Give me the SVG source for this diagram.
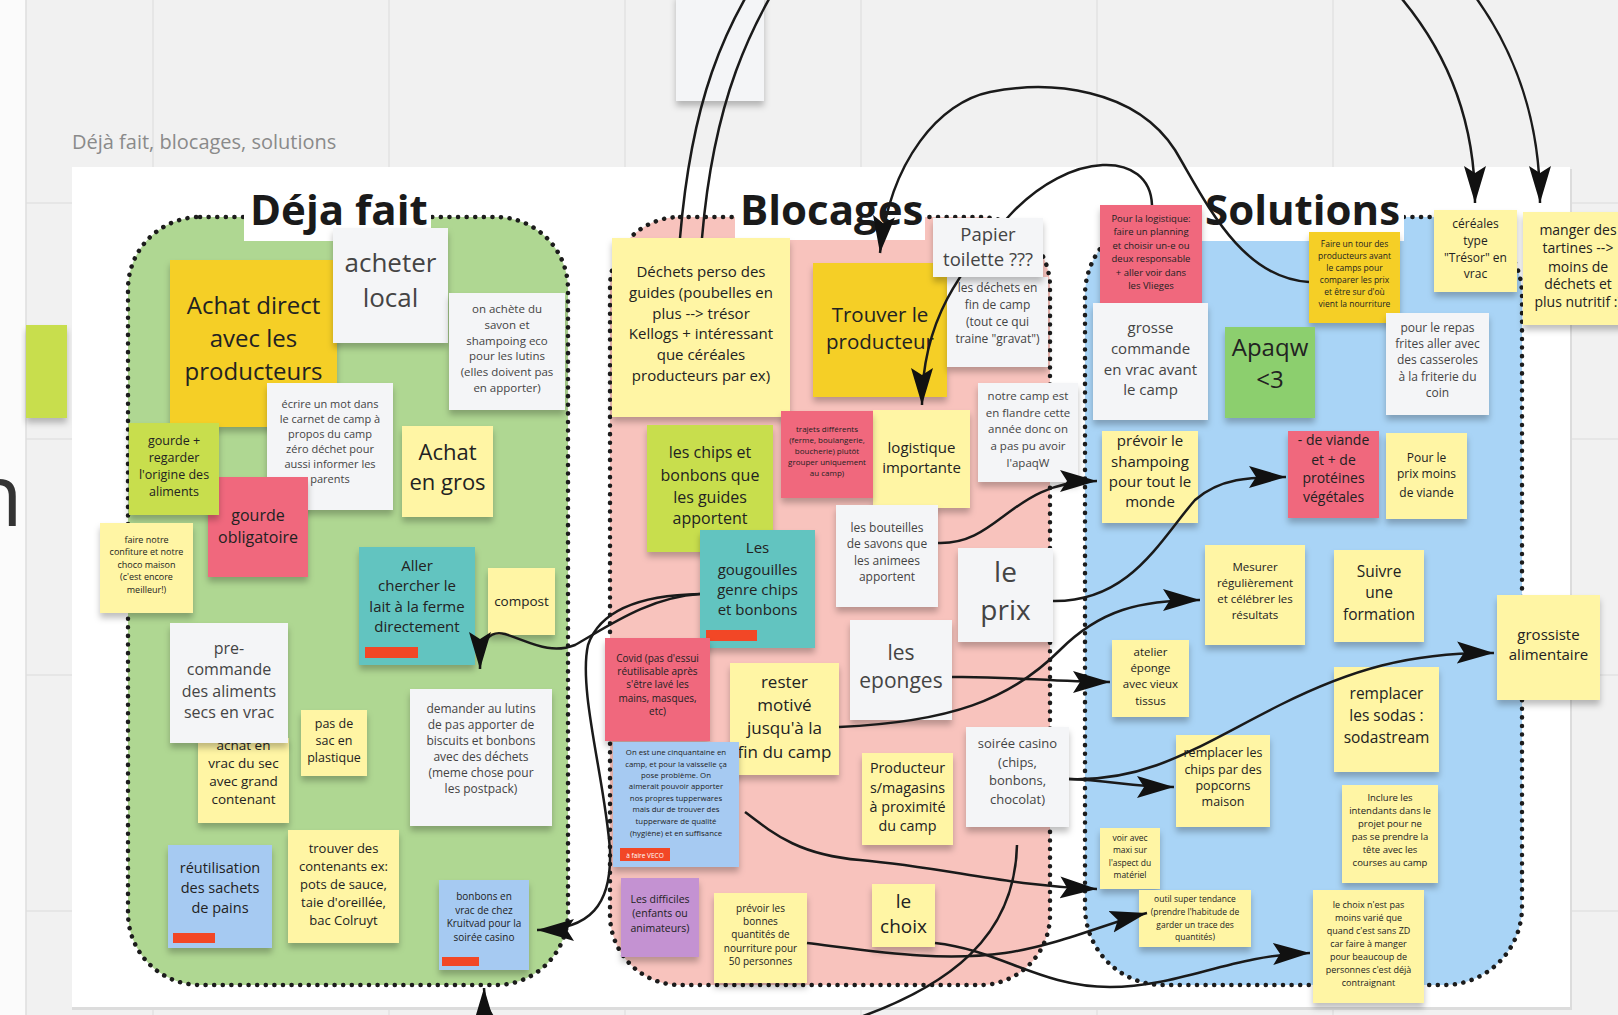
<svg xmlns="http://www.w3.org/2000/svg" width="1618" height="1015" viewBox="0 0 1618 1015">
<defs>
<style>
.t{font-family:"Open Sans","Liberation Sans",sans-serif;text-anchor:middle;fill:#222}
.g{fill:#444}
.h{font-family:"Open Sans","Liberation Sans",sans-serif;font-weight:700;font-size:42px;fill:#1a1a1a}
.s{filter:url(#sh)}
.ly{fill:#fff5a4}.or{fill:#f5cf28}.wh{fill:#f4f5f7}.li{fill:#c8de4e}.gr{fill:#8ccf6e}.te{fill:#62c4c0}.pk{fill:#f0687d}.bl{fill:#a6caf2}.pu{fill:#c492d2}.rb{fill:#f24726}
.reg{stroke:#1c1c1c;stroke-width:4.5;stroke-dasharray:0.1 8.5;stroke-linecap:round}
.c{fill:none;stroke:#1a1a1a;stroke-width:2.5;marker-end:url(#ah)}
.grid{stroke:#e2e2e2;stroke-width:1.5}
</style>
<filter id="sh" x="-10%" y="-10%" width="120%" height="135%"><feDropShadow dx="0" dy="5" stdDeviation="3" flood-color="#000" flood-opacity="0.25"/></filter>
<marker id="ah" markerUnits="userSpaceOnUse" markerWidth="38" markerHeight="24" viewBox="0 0 38 24" refX="37" refY="12" orient="auto"><path d="M0,1 L37,12 L0,23 L7,12 Z" fill="#111"/></marker>
</defs>

<g id="background">
<rect x="0" y="0" width="1618" height="1015" fill="#f1f1f1"/>
<g class="grid">
<line x1="153" y1="0" x2="153" y2="1015"/><line x1="389" y1="0" x2="389" y2="1015"/><line x1="625" y1="0" x2="625" y2="1015"/><line x1="861" y1="0" x2="861" y2="1015"/><line x1="1097" y1="0" x2="1097" y2="1015"/><line x1="1333" y1="0" x2="1333" y2="1015"/>
<line x1="0" y1="203" x2="1618" y2="203"/><line x1="0" y1="439" x2="1618" y2="439"/><line x1="0" y1="675" x2="1618" y2="675"/><line x1="0" y1="911" x2="1618" y2="911"/>
</g>
<rect x="0" y="0" width="26" height="1015" fill="#fbfbfb"/>
<line x1="26" y1="0" x2="26" y2="1015" stroke="#dedede" stroke-width="1.5"/>
<text x="-30" y="526" font-family="Open Sans, Liberation Sans, sans-serif" font-size="86" fill="#333">n</text>
<text x="72" y="149" font-family="Open Sans, Liberation Sans, sans-serif" font-size="20" fill="#8a8a8a">Déjà fait, blocages, solutions</text>
<rect x="72" y="169" width="1500" height="841" fill="#dcdcdc"/>
<rect x="72" y="167" width="1498" height="840" fill="#ffffff"/>
</g>

<g id="outside-notes">
<rect class="s wh" x="676" y="-6" width="88" height="107"/>
<rect class="s li" x="26" y="325" width="41" height="93"/>
</g>

<g id="regions">
<rect class="reg" x="128" y="217" width="440" height="768" rx="72" fill="#afd792"/>
<rect class="reg" x="610" y="217" width="440" height="768" rx="70" fill="#f8c3bd"/>
<rect class="reg" x="1085" y="217" width="437" height="768" rx="78" fill="#a9d4f6"/>
</g>

<g id="titles">
<rect x="244" y="188" width="187" height="53" fill="#fff"/><text class="h" x="250" y="225">Déja fait</text>
<rect x="735" y="188" width="190" height="52" fill="#fff"/><text class="h" x="740" y="225">Blocages</text>
<rect x="1201" y="188" width="203" height="53" fill="#fff"/><text class="h" x="1205" y="225">Solutions</text>
</g>

<g id="deja-fait">
<g id="achat-direct"><rect class="s or" x="170" y="260" width="167" height="167"/><text class="t" font-size="24"><tspan x="253.5" y="314">Achat direct</tspan><tspan x="253.5" y="347">avec les</tspan><tspan x="253.5" y="380">producteurs</tspan></text></g>
<g id="acheter-local"><rect class="s wh" x="333" y="228" width="115" height="115"/><text class="t g" font-size="26"><tspan x="390.5" y="272">acheter</tspan><tspan x="390.5" y="307">local</tspan></text></g>
<g id="savon"><rect class="s wh" x="449" y="293" width="116" height="117"/><text class="t g" font-size="11.5"><tspan x="507" y="313">on achète du</tspan><tspan x="507" y="329">savon et</tspan><tspan x="507" y="345">shampoing eco</tspan><tspan x="507" y="360">pour les lutins</tspan><tspan x="507" y="376">(elles doivent pas</tspan><tspan x="507" y="392">en apporter)</tspan></text></g>
<g id="ecrire"><rect class="s wh" x="267" y="383" width="126" height="127"/><text class="t g" font-size="11"><tspan x="330" y="408">écrire un mot dans</tspan><tspan x="330" y="423">le carnet de camp à</tspan><tspan x="330" y="438">propos du camp</tspan><tspan x="330" y="453">zéro déchet pour</tspan><tspan x="330" y="468">aussi informer les</tspan><tspan x="330" y="483">parents</tspan></text></g>
<g id="achat-gros"><rect class="s ly" x="402" y="426" width="91" height="91"/><text class="t" font-size="22"><tspan x="447.5" y="460">Achat</tspan><tspan x="447.5" y="490">en gros</tspan></text></g>
<g id="gourde-obligatoire"><rect class="s pk" x="208" y="477" width="100" height="100"/><text class="t" font-size="16"><tspan x="258" y="521">gourde</tspan><tspan x="258" y="543">obligatoire</tspan></text></g>
<g id="gourde-regarder"><rect class="s li" x="129" y="423" width="90" height="92"/><text class="t" font-size="12.5"><tspan x="174" y="445">gourde +</tspan><tspan x="174" y="462">regarder</tspan><tspan x="174" y="479">l'origine des</tspan><tspan x="174" y="496">aliments</tspan></text></g>
<g id="confiture"><rect class="s ly" x="100" y="523" width="93" height="90"/><text class="t" font-size="9"><tspan x="146.5" y="543">faire notre</tspan><tspan x="146.5" y="555">confiture et notre</tspan><tspan x="146.5" y="568">choco maison</tspan><tspan x="146.5" y="580">(c'est encore</tspan><tspan x="146.5" y="593">meilleur!)</tspan></text></g>
<g id="aller-lait"><rect class="s te" x="359" y="547" width="116" height="118"/><rect class="rb" x="365" y="647" width="53" height="11"/><text class="t" font-size="15"><tspan x="417" y="571">Aller</tspan><tspan x="417" y="591">chercher le</tspan><tspan x="417" y="612">lait à la ferme</tspan><tspan x="417" y="632">directement</tspan></text></g>
<g id="compost"><rect class="s ly" x="488" y="568" width="67" height="67"/><text class="t" font-size="13.5"><tspan x="521.5" y="606">compost</tspan></text></g>
<g id="achat-vrac"><rect class="s ly" x="198" y="738" width="91" height="85"/><text class="t" font-size="13.5"><tspan x="243.5" y="750">achat en</tspan><tspan x="243.5" y="768">vrac du sec</tspan><tspan x="243.5" y="786">avec grand</tspan><tspan x="243.5" y="804">contenant</tspan></text></g>
<g id="precommande"><rect class="s wh" x="170" y="623" width="118" height="120"/><text class="t g" font-size="16"><tspan x="229" y="654">pre-</tspan><tspan x="229" y="675">commande</tspan><tspan x="229" y="697">des aliments</tspan><tspan x="229" y="718">secs en vrac</tspan></text></g>
<g id="pas-de-sac"><rect class="s ly" x="301" y="710" width="66" height="66"/><text class="t" font-size="12.5"><tspan x="334" y="728">pas de</tspan><tspan x="334" y="745">sac en</tspan><tspan x="334" y="762">plastique</tspan></text></g>
<g id="demander"><rect class="s wh" x="410" y="689" width="142" height="137"/><text class="t g" font-size="12"><tspan x="481" y="713">demander au lutins</tspan><tspan x="481" y="729">de pas apporter de</tspan><tspan x="481" y="745">biscuits et bonbons</tspan><tspan x="481" y="761">avec des déchets</tspan><tspan x="481" y="777">(meme chose pour</tspan><tspan x="481" y="793">les postpack)</tspan></text></g>
<g id="reutilisation"><rect class="s bl" x="168" y="845" width="104" height="103"/><rect class="rb" x="173" y="933" width="42" height="10"/><text class="t" font-size="14.5"><tspan x="220" y="873">réutilisation</tspan><tspan x="220" y="893">des sachets</tspan><tspan x="220" y="913">de pains</tspan></text></g>
<g id="trouver-contenants"><rect class="s ly" x="288" y="830" width="111" height="113"/><text class="t" font-size="13"><tspan x="343.5" y="853">trouver des</tspan><tspan x="343.5" y="871">contenants ex:</tspan><tspan x="343.5" y="889">pots de sauce,</tspan><tspan x="343.5" y="907">taie d'oreillée,</tspan><tspan x="343.5" y="925">bac Colruyt</tspan></text></g>
<g id="bonbons-vrac"><rect class="s bl" x="439" y="880" width="90" height="90"/><rect class="rb" x="442" y="957" width="37" height="9"/><text class="t" font-size="10"><tspan x="484" y="900">bonbons en</tspan><tspan x="484" y="914">vrac de chez</tspan><tspan x="484" y="927">Kruitvad pour la</tspan><tspan x="484" y="941">soirée casino</tspan></text></g>
</g>

<g id="blocages">
<g id="dechets-perso"><rect class="s ly" x="612" y="238" width="178" height="179"/><text class="t" font-size="15"><tspan x="701" y="277">Déchets perso des</tspan><tspan x="701" y="298">guides (poubelles en</tspan><tspan x="701" y="319">plus --&gt; trésor</tspan><tspan x="701" y="339">Kellogs + intéressant</tspan><tspan x="701" y="360">que céréales</tspan><tspan x="701" y="381">producteurs par ex)</tspan></text></g>
<g id="trouver-producteur"><rect class="s or" x="813" y="263" width="134" height="134"/><text class="t" font-size="20.5"><tspan x="880" y="322">Trouver le</tspan><tspan x="880" y="349">producteur</tspan></text></g>
<g id="dechets-fin"><rect class="s wh" x="947" y="277" width="101" height="90"/><text class="t g" font-size="12"><tspan x="997.5" y="292">les déchets en</tspan><tspan x="997.5" y="309">fin de camp</tspan><tspan x="997.5" y="326">(tout ce qui</tspan><tspan x="997.5" y="343">traine "gravat")</tspan></text></g>
<g id="logistique"><rect class="s ly" x="873" y="410" width="97" height="98"/><text class="t" font-size="15"><tspan x="921.5" y="453">logistique</tspan><tspan x="921.5" y="473">importante</tspan></text></g>
<g id="trajets"><rect class="s pk" x="781" y="411" width="92" height="87"/><text class="t" font-size="8"><tspan x="827" y="432">trajets différents</tspan><tspan x="827" y="443">(ferme, boulangerie,</tspan><tspan x="827" y="454">boucherie) plutôt</tspan><tspan x="827" y="465">grouper uniquement</tspan><tspan x="827" y="476">au camp)</tspan></text></g>
<g id="chips-bonbons"><rect class="s li" x="647" y="425" width="126" height="127"/><text class="t" font-size="16"><tspan x="710" y="458">les chips et</tspan><tspan x="710" y="481">bonbons que</tspan><tspan x="710" y="503">les guides</tspan><tspan x="710" y="524">apportent</tspan></text></g>
<g id="gougouilles"><rect class="s te" x="700" y="530" width="115" height="118"/><rect class="rb" x="706" y="630" width="51" height="11"/><text class="t" font-size="15"><tspan x="757.5" y="553">Les</tspan><tspan x="757.5" y="575">gougouilles</tspan><tspan x="757.5" y="595">genre chips</tspan><tspan x="757.5" y="615">et bonbons</tspan></text></g>
<g id="bouteilles"><rect class="s wh" x="836" y="505" width="102" height="102"/><text class="t g" font-size="12"><tspan x="887" y="532">les bouteilles</tspan><tspan x="887" y="548">de savons que</tspan><tspan x="887" y="565">les animees</tspan><tspan x="887" y="581">apportent</tspan></text></g>
<g id="notre-camp"><rect class="s wh" x="978" y="383" width="100" height="99"/><text class="t g" font-size="11.5"><tspan x="1028" y="400">notre camp est</tspan><tspan x="1028" y="417">en flandre cette</tspan><tspan x="1028" y="433">année donc on</tspan><tspan x="1028" y="450">a pas pu avoir</tspan><tspan x="1028" y="467">l'apaqW</tspan></text></g>
<g id="le-prix"><rect class="s wh" x="958" y="548" width="95" height="94"/><text class="t g" font-size="28"><tspan x="1005.5" y="582">le</tspan><tspan x="1005.5" y="620">prix</tspan></text></g>
<g id="eponges"><rect class="s wh" x="850" y="620" width="102" height="100"/><text class="t g" font-size="21"><tspan x="901" y="660">les</tspan><tspan x="901" y="688">eponges</tspan></text></g>
<g id="covid"><rect class="s pk" x="605" y="638" width="105" height="103"/><text class="t" font-size="10"><tspan x="657.5" y="662">Covid (pas d'essui</tspan><tspan x="657.5" y="675">réutilisable après</tspan><tspan x="657.5" y="688">s'être lavé les</tspan><tspan x="657.5" y="702">mains, masques,</tspan><tspan x="657.5" y="715">etc)</tspan></text></g>
<g id="rester-motive"><rect class="s ly" x="730" y="663" width="109" height="112"/><text class="t" font-size="17"><tspan x="784.5" y="688">rester</tspan><tspan x="784.5" y="711">motivé</tspan><tspan x="784.5" y="734">jusqu'à la</tspan><tspan x="784.5" y="758">fin du camp</tspan></text></g>
<g id="on-est"><rect class="s bl" x="613" y="742" width="126" height="125"/><rect class="rb" x="620" y="848" width="50" height="13"/><text class="t" font-size="7.8"><tspan x="676" y="755">On est une cinquantaine en</tspan><tspan x="676" y="767">camp, et pour la vaisselle ça</tspan><tspan x="676" y="778">pose problème. On</tspan><tspan x="676" y="789">aimerait pouvoir apporter</tspan><tspan x="676" y="801">nos propres tupperwares</tspan><tspan x="676" y="812">mais dur de trouver des</tspan><tspan x="676" y="824">tupperware de qualité</tspan><tspan x="676" y="836">(hygiène) et en suffisance</tspan></text><text class="t" font-size="6.5" x="645" y="857.5" style="fill:#fff">à faire VECO</text></g>
<g id="difficiles"><rect class="s pu" x="621" y="878" width="78" height="79"/><text class="t" font-size="10.5"><tspan x="660" y="903">Les difficiles</tspan><tspan x="660" y="917">(enfants ou</tspan><tspan x="660" y="932">animateurs)</tspan></text></g>
<g id="prevoir-quantites"><rect class="s ly" x="714" y="893" width="93" height="90"/><text class="t" font-size="10"><tspan x="760.5" y="912">prévoir les</tspan><tspan x="760.5" y="925">bonnes</tspan><tspan x="760.5" y="938">quantités de</tspan><tspan x="760.5" y="952">nourriture pour</tspan><tspan x="760.5" y="965">50 personnes</tspan></text></g>
<g id="producteurs-magasins"><rect class="s ly" x="862" y="753" width="91" height="92"/><text class="t" font-size="14.3"><tspan x="907.5" y="773">Producteur</tspan><tspan x="907.5" y="793">s/magasins</tspan><tspan x="907.5" y="812">à proximité</tspan><tspan x="907.5" y="831">du camp</tspan></text></g>
<g id="soiree-casino"><rect class="s wh" x="966" y="727" width="103" height="100"/><text class="t g" font-size="13"><tspan x="1017.5" y="748">soirée casino</tspan><tspan x="1017.5" y="767">(chips,</tspan><tspan x="1017.5" y="785">bonbons,</tspan><tspan x="1017.5" y="804">chocolat)</tspan></text></g>
<g id="le-choix"><rect class="s ly" x="872" y="884" width="63" height="63"/><text class="t" font-size="19"><tspan x="903.5" y="908">le</tspan><tspan x="903.5" y="933">choix</tspan></text></g>
</g>

<g id="solutions">
<g id="pour-logistique"><rect class="s pk" x="1100" y="205" width="102" height="102"/><text class="t" font-size="9.5"><tspan x="1151" y="222">Pour la logistique:</tspan><tspan x="1151" y="235">faire un planning</tspan><tspan x="1151" y="249">et choisir un-e ou</tspan><tspan x="1151" y="262">deux responsable</tspan><tspan x="1151" y="276">+ aller voir dans</tspan><tspan x="1151" y="289">les Vlieges</tspan></text></g>
<g id="grosse-commande"><rect class="s wh" x="1093" y="303" width="115" height="117"/><text class="t g" font-size="15"><tspan x="1150.5" y="333">grosse</tspan><tspan x="1150.5" y="354">commande</tspan><tspan x="1150.5" y="375">en vrac avant</tspan><tspan x="1150.5" y="395">le camp</tspan></text></g>
<g id="faire-tour"><rect class="s or" x="1309" y="232" width="91" height="91"/><text class="t" font-size="8.5"><tspan x="1354.5" y="247">Faire un tour des</tspan><tspan x="1354.5" y="259">producteurs avant</tspan><tspan x="1354.5" y="271">le camps pour</tspan><tspan x="1354.5" y="283">comparer les prix</tspan><tspan x="1354.5" y="295">et être sur d'où</tspan><tspan x="1354.5" y="307">vient la nourriture</tspan></text></g>
<g id="apaqw"><rect class="s gr" x="1225" y="327" width="90" height="91"/><text class="t" font-size="24"><tspan x="1270" y="356">Apaqw</tspan><tspan x="1270" y="388">&lt;3</tspan></text></g>
<g id="cereales"><rect class="s ly" x="1434" y="210" width="83" height="82"/><text class="t" font-size="12"><tspan x="1475.5" y="228">céréales</tspan><tspan x="1475.5" y="245">type</tspan><tspan x="1475.5" y="262">"Trésor" en</tspan><tspan x="1475.5" y="278">vrac</tspan></text></g>
<g id="tartines"><rect class="s ly" x="1523" y="212" width="110" height="113"/><text class="t" font-size="14"><tspan x="1578" y="235">manger des</tspan><tspan x="1578" y="253">tartines --&gt;</tspan><tspan x="1578" y="272">moins de</tspan><tspan x="1578" y="289">déchets et</tspan><tspan x="1578" y="307">plus nutritif :)</tspan></text></g>
<g id="repas-frites"><rect class="s wh" x="1386" y="313" width="103" height="102"/><text class="t g" font-size="12"><tspan x="1437.5" y="332">pour le repas</tspan><tspan x="1437.5" y="348">frites aller avec</tspan><tspan x="1437.5" y="364">des casseroles</tspan><tspan x="1437.5" y="381">à la friterie du</tspan><tspan x="1437.5" y="397">coin</tspan></text></g>
<g id="shampoing"><rect class="s ly" x="1102" y="431" width="96" height="92"/><text class="t" font-size="15"><tspan x="1150" y="446">prévoir le</tspan><tspan x="1150" y="467">shampoing</tspan><tspan x="1150" y="487">pour tout le</tspan><tspan x="1150" y="507">monde</tspan></text></g>
<g id="moins-viande"><rect class="s pk" x="1288" y="431" width="91" height="87"/><text class="t" font-size="14"><tspan x="1333.5" y="445">- de viande</tspan><tspan x="1333.5" y="465">et + de</tspan><tspan x="1333.5" y="483">protéines</tspan><tspan x="1333.5" y="502">végétales</tspan></text></g>
<g id="prix-viande"><rect class="s ly" x="1386" y="433" width="81" height="86"/><text class="t" font-size="12"><tspan x="1426.5" y="462">Pour le</tspan><tspan x="1426.5" y="478">prix moins</tspan><tspan x="1426.5" y="497">de viande</tspan></text></g>
<g id="mesurer"><rect class="s ly" x="1205" y="545" width="100" height="100"/><text class="t" font-size="11.5"><tspan x="1255" y="571">Mesurer</tspan><tspan x="1255" y="587">régulièrement</tspan><tspan x="1255" y="603">et célébrer les</tspan><tspan x="1255" y="619">résultats</tspan></text></g>
<g id="formation"><rect class="s ly" x="1334" y="550" width="90" height="92"/><text class="t" font-size="15.5"><tspan x="1379" y="577">Suivre</tspan><tspan x="1379" y="598">une</tspan><tspan x="1379" y="620">formation</tspan></text></g>
<g id="grossiste"><rect class="s ly" x="1497" y="595" width="103" height="105"/><text class="t" font-size="15"><tspan x="1548.5" y="640">grossiste</tspan><tspan x="1548.5" y="660">alimentaire</tspan></text></g>
<g id="atelier-eponge"><rect class="s ly" x="1112" y="640" width="77" height="77"/><text class="t" font-size="11.5"><tspan x="1150.5" y="656">atelier</tspan><tspan x="1150.5" y="672">éponge</tspan><tspan x="1150.5" y="688">avec vieux</tspan><tspan x="1150.5" y="705">tissus</tspan></text></g>
<g id="sodas"><rect class="s ly" x="1334" y="667" width="105" height="105"/><text class="t" font-size="15.5"><tspan x="1386.5" y="699">remplacer</tspan><tspan x="1386.5" y="721">les sodas :</tspan><tspan x="1386.5" y="743">sodastream</tspan></text></g>
<g id="popcorns"><rect class="s ly" x="1176" y="735" width="94" height="92"/><text class="t" font-size="12.5"><tspan x="1223" y="757">remplacer les</tspan><tspan x="1223" y="774">chips par des</tspan><tspan x="1223" y="790">popcorns</tspan><tspan x="1223" y="806">maison</tspan></text></g>
<g id="inclure"><rect class="s ly" x="1342" y="785" width="96" height="98"/><text class="t" font-size="9.5"><tspan x="1390" y="801">Inclure les</tspan><tspan x="1390" y="814">intendants dans le</tspan><tspan x="1390" y="827">projet pour ne</tspan><tspan x="1390" y="840">pas se prendre la</tspan><tspan x="1390" y="853">tête avec les</tspan><tspan x="1390" y="866">courses au camp</tspan></text></g>
<g id="voir-maxi"><rect class="s ly" x="1100" y="828" width="60" height="61"/><text class="t" font-size="8.5"><tspan x="1130" y="841">voir avec</tspan><tspan x="1130" y="853">maxi sur</tspan><tspan x="1130" y="866">l'aspect du</tspan><tspan x="1130" y="878">matériel</tspan></text></g>
<g id="outil"><rect class="s ly" x="1139" y="890" width="112" height="57"/><text class="t" font-size="8.5"><tspan x="1195" y="902">outil super tendance</tspan><tspan x="1195" y="915">(prendre l'habitude de</tspan><tspan x="1195" y="928">garder un trace des</tspan><tspan x="1195" y="940">quantités)</tspan></text></g>
<g id="choix-varie"><rect class="s ly" x="1313" y="890" width="111" height="113"/><text class="t" font-size="9"><tspan x="1368.5" y="908">le choix n'est pas</tspan><tspan x="1368.5" y="921">moins varié que</tspan><tspan x="1368.5" y="934">quand c'est sans ZD</tspan><tspan x="1368.5" y="947">car faire à manger</tspan><tspan x="1368.5" y="960">pour beaucoup de</tspan><tspan x="1368.5" y="973">personnes c'est déjà</tspan><tspan x="1368.5" y="986">contraignant</tspan></text></g>
</g>

<g id="connectors">
<path class="c" d="M680,238 C690,120 715,20 800,-80 C950,-250 1475,-150 1475,203"/>
<path class="c" d="M702,238 C712,120 740,20 830,-90 C1000,-280 1540,-180 1540,203"/>
<path class="c" d="M1309,282 C1240,278 1205,200 1175,150 C1135,88 1050,80 990,92 C940,102 890,160 880,253"/>
<path class="c" d="M1152,205 C1150,150 1070,150 1010,215 C960,270 922,320 922,405"/>
<path class="c" d="M938,543 C1000,545 1010,481 1097,481"/>
<path class="c" d="M1053,601 C1130,602 1160,540 1195,500 C1220,478 1250,477 1286,477"/>
<path class="c" d="M952,677 C1010,676 1050,682 1110,682"/>
<path class="c" d="M839,727 C950,722 1010,700 1060,650 C1100,610 1140,600 1200,600"/>
<path class="c" d="M1069,779 C1150,782 1200,745 1280,705 C1350,670 1410,652 1494,653"/>
<path class="c" d="M1069,779 C1110,780 1130,787 1174,787"/>
<path class="c" d="M745,812 C775,835 800,855 860,860 C950,868 1000,885 1097,889"/>
<path class="c" d="M935,943 C1000,950 1040,987 1110,987 C1180,987 1230,955 1310,953"/>
<path class="c" d="M807,943 C880,952 940,962 1005,953 C1060,945 1110,922 1147,913"/>
<path class="c" d="M1017,845 C1015,930 960,990 820,1030 C700,1060 484,1080 484,988"/>
<path class="c" d="M700,594 C640,595 600,610 588,645 C578,690 605,780 610,850 C612,905 590,930 537,930"/>
<path class="c" d="M700,594 C650,597 610,625 575,645 C550,655 530,642 505,634 C490,630 480,640 480,669"/>
</g>

<g id="papier-toilette"><rect class="s wh" x="933" y="218" width="110" height="59"/><text class="t g" font-size="18.5"><tspan x="988" y="241">Papier</tspan><tspan x="988" y="266">toilette ???</tspan></text></g>
</svg>
